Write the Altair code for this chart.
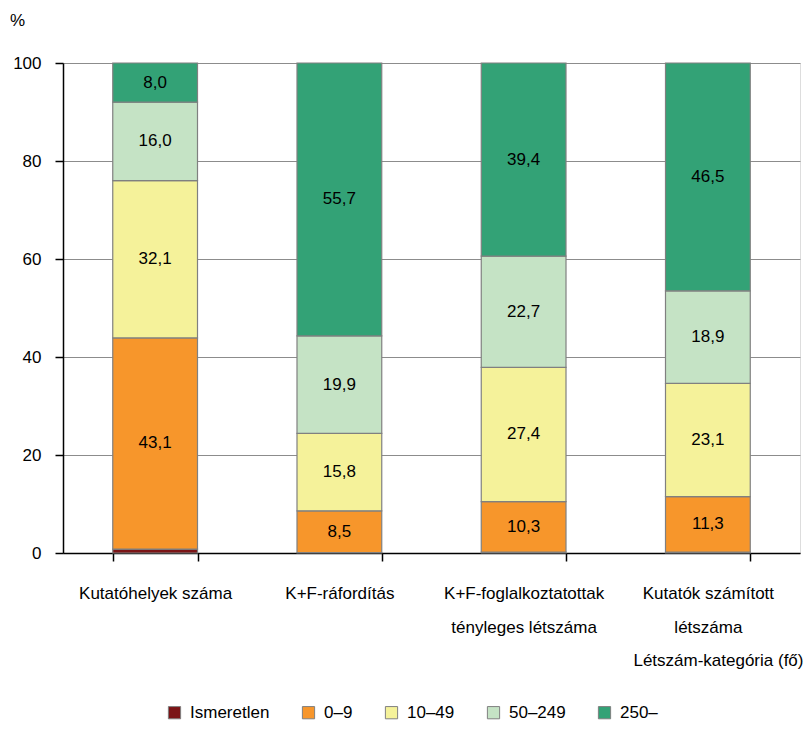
import altair as alt
import pandas as pd

categories = ["Kutatóhelyek száma", "K+F-ráfordítás", "K+F-foglalkoztatottak|tényleges létszáma", "Kutatók számított|létszáma"]
series = ["Ismeretlen", "0–9", "10–49", "50–249", "250–"]
colors = ["#7b1416", "#f7962b", "#f5f29a", "#c5e3c5", "#33a276"]
values = {
    "Ismeretlen": [0.8, 0.1, 0.2, 0.2],
    "0–9": [43.1, 8.5, 10.3, 11.3],
    "10–49": [32.1, 15.8, 27.4, 23.1],
    "50–249": [16.0, 19.9, 22.7, 18.9],
    "250–": [8.0, 55.7, 39.4, 46.5],
}

rows = []
for si, s in enumerate(series):
    for ci, c in enumerate(categories):
        rows.append({"cat": c, "series": s, "ord": si, "value": values[s][ci]})
df = pd.DataFrame(rows)

FONT = "Liberation Sans"

base = alt.Chart(df).transform_stack(
    stack="value", groupby=["cat"], as_=["y0", "y1"], sort=[alt.SortField("ord", order="ascending")]
).transform_calculate(mid="(datum.y0 + datum.y1) / 2")

xenc = alt.X("cat:N", sort=categories,
             scale=alt.Scale(paddingInner=0.54, paddingOuter=0.27),
             axis=alt.Axis(title="Létszám-kategória (fő)", labelAngle=0, tickBand="extent",
                           labelExpr="split(datum.label, '|')", labelLineHeight=34,
                           labelPadding=24, tickSize=8, domainColor="#000", tickColor="#000",
                           domainWidth=1.5, tickWidth=1.5, labelColor="#000",
                           labelFont=FONT, labelFontSize=17, labelBaseline="top",
                           titleFont=FONT, titleFontSize=17, titleFontWeight="normal",
                           titleColor="#000", titleAlign="right", titleBaseline="middle",
                           titleX=740, titleY=107, titleAnchor="end"))

bars = base.mark_bar(stroke="#808080", strokeWidth=1.2).encode(
    x=xenc,
    y=alt.Y("y0:Q", scale=alt.Scale(domain=[0, 100]),
            axis=alt.Axis(title="%", values=[0, 20, 40, 60, 80, 100], tickSize=8, labelPadding=14,
                          domainColor="#000", tickColor="#000", domainWidth=1.5, tickWidth=1.5,
                          gridColor="#8c8c8c", gridWidth=1.2, labelColor="#000",
                          labelFont=FONT, labelFontSize=17,
                          titleFont=FONT, titleFontSize=17, titleFontWeight="normal",
                          titleColor="#000", titleAngle=0, titleAlign="center",
                          titleBaseline="middle", titleX=-46, titleY=-43)),
    y2="y1:Q",
    color=alt.Color("series:N", scale=alt.Scale(domain=series, range=colors),
                    legend=alt.Legend(title=None, orient="none", direction="horizontal",
                                      legendX=103, legendY=641, symbolType="square",
                                      symbolSize=150, symbolStrokeColor="#808080",
                                      symbolStrokeWidth=1, labelFont=FONT, labelFontSize=17,
                                      labelColor="#000", columnPadding=30, labelOffset=7)),
    order=alt.Order("ord:Q"),
)

labels = base.transform_filter("datum.series != 'Ismeretlen'").mark_text(
    font=FONT, fontSize=17, color="#000"
).encode(
    x=alt.X("cat:N", sort=categories),
    y=alt.Y("mid:Q"),
    text=alt.Text("lbl:N"),
).transform_calculate(lbl="replace(format(datum.value, '.1f'), '.', ',')")

chart = (bars + labels).properties(
    width=737, height=490,
    padding={"left": 55, "top": 55, "right": 4, "bottom": 170},
    autosize=alt.AutoSizeParams(type="none"),
).configure_view(stroke="#404040", strokeWidth=1.5).configure(background="white")

chart.save("out.html", embed_options={"renderer": "svg", "actions": False})
